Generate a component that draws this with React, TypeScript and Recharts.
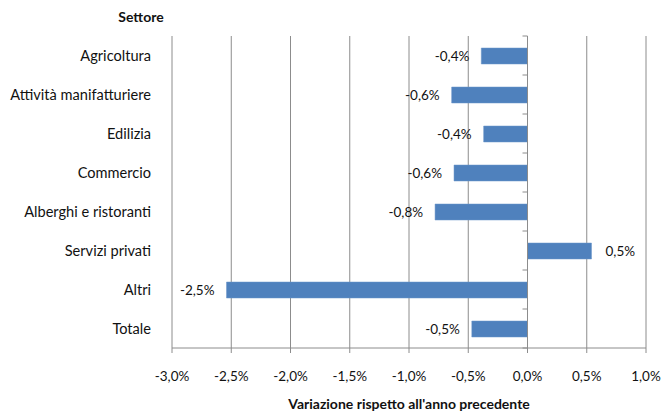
import React from "react";
import { BarChart, Bar, XAxis, YAxis, CartesianGrid, ReferenceLine, LabelList, Label } from "recharts";

const categories = [
  "Agricoltura",
  "Attività manifatturiere",
  "Edilizia",
  "Commercio",
  "Alberghi e ristoranti",
  "Servizi privati",
  "Altri",
  "Totale",
];
const values = [-0.39, -0.64, -0.37, -0.62, -0.78, 0.54, -2.54, -0.47];
const xTicks = [-3, -2.5, -2, -1.5, -1, -0.5, 0, 0.5, 1];

const data = categories.map((c, i) => ({ name: c, value: values[i] }));

const FONT = "Lato, 'Liberation Sans', Arial, sans-serif";
const fmt = (v: number) => v.toFixed(1).replace(".", ",") + "%";

const ZeroLine = (props: any) => {
  const { x1, y1, x2, y2 } = props;
  const n = categories.length;
  const ticks = [];
  for (let k = 0; k <= n; k++) {
    const y = y1 + ((y2 - y1) * k) / n;
    ticks.push(<line key={k} x1={x1 - 5} x2={x1} y1={y} y2={y} stroke="#8c8c8c" strokeWidth={1} />);
  }
  return (
    <g>
      <line x1={x1} y1={y1} x2={x2} y2={y2} stroke="#8c8c8c" strokeWidth={1} />
      {ticks}
    </g>
  );
};

const ValueLabel = (props: any) => {
  const { x, y, width, height, value } = props;
  const left = Math.min(x, x + width);
  const right = Math.max(x, x + width);
  const cy = y + height / 2;
  const neg = value < 0;
  return (
    <text
      x={neg ? left - 12 : right + 14}
      y={cy}
      dy="0.35em"
      textAnchor={neg ? "end" : "start"}
      fontFamily={FONT}
      fontSize={13.5}
      fill="#111"
    >
      {fmt(value)}
    </text>
  );
};

export default function App() {
  return (
    <div style={{ position: "absolute", left: 0, top: 0, width: 663, height: 412, background: "#fff" }}>
      <div
        style={{
          position: "absolute",
          left: 0,
          width: 282,
          top: 8,
          textAlign: "center",
          fontFamily: FONT,
          fontWeight: "bold",
          fontSize: 14,
          color: "#111",
        }}
      >
        Settore
      </div>
      <BarChart
        width={663}
        height={412}
        data={data}
        layout="vertical"
        margin={{ top: 36, right: 17, bottom: 0, left: 0 }}
        barSize={16}
      >
        <CartesianGrid horizontal={false} vertical={true} stroke="#8c8c8c" strokeWidth={1} />
        <XAxis
          type="number"
          dataKey="value"
          domain={[-3, 1]}
          ticks={xTicks}
          tickFormatter={fmt}
          interval={0}
          height={64}
          axisLine={{ stroke: "#8c8c8c" }}
          tickLine={{ stroke: "#8c8c8c" }}
          tickSize={5}
          tickMargin={18}
          tick={{ fontFamily: FONT, fontSize: 13.5, fill: "#111" }}
        >
          <Label
            value="Variazione rispetto all'anno precedente"
            position="insideBottom"
            offset={3}
            style={{ fontFamily: FONT, fontSize: 14, fontWeight: "bold", fill: "#111" }}
          />
        </XAxis>
        <YAxis
          type="category"
          dataKey="name"
          width={172}
          axisLine={false}
          tickLine={false}
          tickSize={6}
          tickMargin={15}
          interval={0}
          tick={{ fontFamily: FONT, fontSize: 14.6, fill: "#111" }}
        />
        <Bar dataKey="value" fill="#4F81BD" stroke="#6b95c8" strokeWidth={0.5} isAnimationActive={false}>
          <LabelList dataKey="value" content={ValueLabel} />
        </Bar>
        <ReferenceLine x={0} shape={ZeroLine} />
      </BarChart>
    </div>
  );
}
